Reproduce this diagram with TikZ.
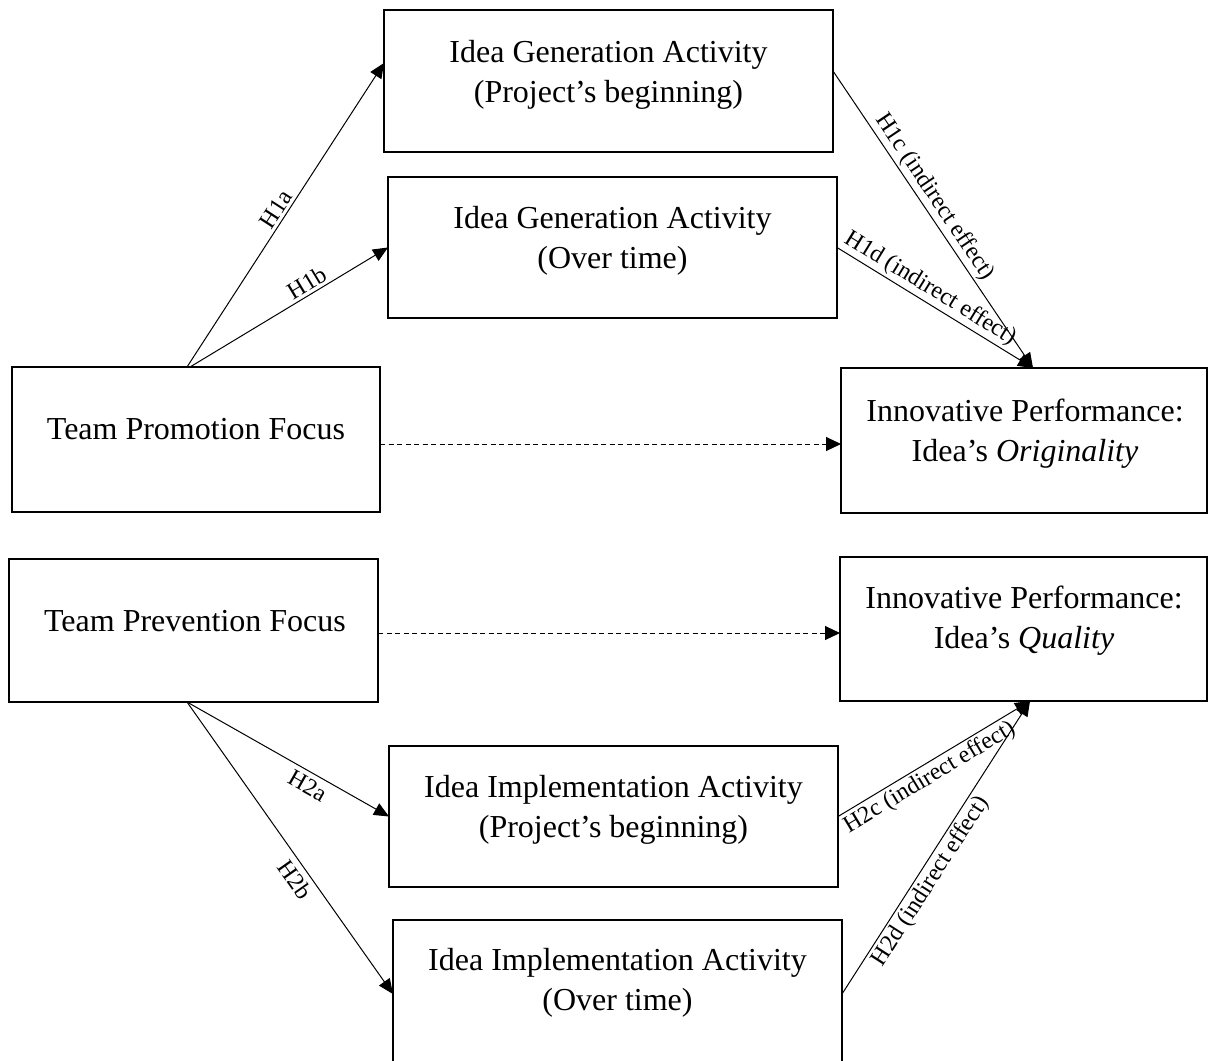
\documentclass[tikz,border=0pt]{standalone}
\usepackage{fontspec}
\setmainfont{Liberation Serif}
\usetikzlibrary{arrows.meta}
\begin{document}
\begin{tikzpicture}[x=1pt,y=-1pt,
  box/.style={draw, line width=1.8pt, rectangle, anchor=north west, inner sep=0pt, outer sep=0pt},
  txt/.style={align=center, font=\fontsize{32}{40}\selectfont, inner sep=0pt},
  lbl/.style={font=\fontsize{24}{28}\selectfont, sloped, inner sep=2.5pt},
  lblb/.style={lbl, inner sep=5pt},
  arr/.style={line width=1pt, -{Triangle[length=15pt,width=13pt]}},
  darr/.style={line width=1pt, dash pattern=on 5pt off 3.5pt, -{Triangle[length=15pt,width=14pt]}}]
\clip (0,0) rectangle (1209,1060);
\fill[white] (0,0) rectangle (1209,1060);
% boxes
\node[box, minimum width=449pt, minimum height=142pt] (iga1) at (384,10) {};
\node[box, minimum width=449pt, minimum height=141pt] (iga2) at (388,177) {};
\node[box, minimum width=368pt, minimum height=145pt] (tpf) at (12,367) {};
\node[box, minimum width=366pt, minimum height=145pt] (ipo) at (841,368) {};
\node[box, minimum width=369pt, minimum height=143pt] (tprev) at (9,559) {};
\node[box, minimum width=367pt, minimum height=144pt] (ipq) at (840,557) {};
\node[box, minimum width=449pt, minimum height=141pt] (iia1) at (389,746) {};
\node[box, minimum width=449pt, minimum height=148pt] (iia2) at (393,920) {};
% texts
\node[txt] (t-iga1) at (608.5,75) {Idea Generation Activity\\(Project’s beginning)};
\node[txt] (t-iga2) at (612.5,241) {Idea Generation Activity\\(Over time)};
\node[txt] (t-tpf) at (196,429) {Team Promotion Focus};
\node[txt] (t-tprev) at (195,621) {Team Prevention Focus};
\node[txt] (t-ipo) at (1025,434) {Innovative Performance:\\Idea’s \textit{Originality}};
\node[txt] (t-ipq) at (1024,621) {Innovative Performance:\\Idea’s \textit{Quality}};
\node[txt] (t-iia1) at (613.5,810) {Idea Implementation Activity\\(Project’s beginning)};
\node[txt] (t-iia2) at (617.5,983) {Idea Implementation Activity\\(Over time)};
% connectors
\draw[arr] ([xshift=-9pt]tpf.north) -- node[lbl, above, pos=0.5] (l-h1a) {H1a} ([yshift=18pt]iga1.west);
\draw[arr] ([xshift=-6pt]tpf.north) -- node[lbl, above, pos=0.62] (l-h1b) {H1b} (iga2.west);
\draw[arr] ([yshift=10pt]iga1.east) -- node[lbl, above, pos=0.45] (l-h1c) {H1c (indirect effect)} ([xshift=9pt]ipo.north);
\draw[arr] (iga2.east) -- node[lbl, above, pos=0.44] (l-h1d) {H1d (indirect effect)} ([xshift=9pt]ipo.north);
\draw[darr] ([yshift=-4.5pt]tpf.east) -- ([yshift=-4.5pt]tpf.east -| ipo.west);
\draw[darr] ([yshift=-2.5pt]tprev.east) -- ([yshift=-2.5pt]tprev.east -| ipq.west);
\draw[arr] ([xshift=-6.5pt]tprev.south) -- node[lblb, below, pos=0.63] (l-h2a) {H2a} (iia1.west);
\draw[arr] ([xshift=-6.5pt]tprev.south) -- node[lblb, below, pos=0.58] (l-h2b) {H2b} (iia2.west);
\draw[arr] (iia1.east) -- node[lbl, below, pos=0.44] (l-h2c) {H2c (indirect effect)} ([xshift=6.5pt]ipq.south);
\draw[arr] (iia2.east) -- node[lbl, below, pos=0.41] (l-h2d) {H2d (indirect effect)} ([xshift=6.5pt]ipq.south);
\end{tikzpicture}
\end{document}
